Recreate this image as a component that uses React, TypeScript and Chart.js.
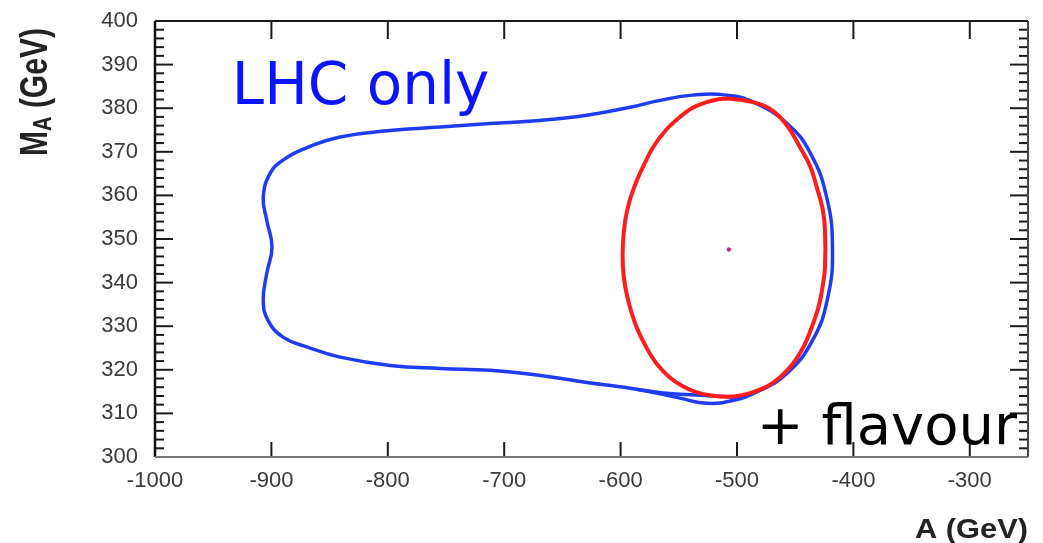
import React, { useEffect, useRef } from "react";
import { Chart, registerables } from "chart.js";

Chart.register(...registerables);

// Axis ranges and tick labels
const xRange = [-1000, -250];
const yRange = [300, 400];
const xTicks = [-1000, -900, -800, -700, -600, -500, -400, -300];
const yTicks = [300, 310, 320, 330, 340, 350, 360, 370, 380, 390, 400];
const yMinorStep = 2;

// Texts
const xTitle = "A (GeV)";
const yTitleMain = "M";
const yTitleSub = "A";
const yTitleRest = " (GeV)";
const lhcLabel = "LHC only";
const flavLabel = "+ flavour";
const lhcLabelPos = [-934, 381];
const flavLabelPos = [-483, 303];

// LHC only contour (blue)
const lhcX = [-712, -755, -798, -841, -869, -890, -901, -907, -904, -899.5, -904, -907, -903, -890, -869, -841, -798, -755, -712, -669, -629, -585, -549, -526, -503, -480, -457, -435, -422, -418, -423, -437, -457, -486, -509, -538, -566, -592, -629, -669, -712];
const lhcY = [376.5, 375.7, 374.9, 373.4, 371, 368.1, 365.1, 359.6, 354.3, 348.1, 342.1, 335.9, 331.4, 327.5, 325.2, 322.9, 321, 320.3, 319.9, 318.7, 317.1, 315.5, 313.5, 312.3, 313, 315.3, 319.2, 326.8, 336.6, 348.1, 359.6, 369.7, 376.5, 381.4, 383, 383, 381.8, 380.2, 378.4, 377.2, 376.5];

// Inner branch of the LHC contour along the bottom of the flavour ellipse
const lhcInnerX = [-585, -560, -535, -508, -496];
const lhcInnerY = [315.5, 314.6, 314.2, 313.8, 313.4];

// LHC + flavour contour (red)
const flavX = [-509, -490, -472, -457, -446, -437, -431.5, -426.5, -424.4, -424.4, -426.5, -430, -436, -443, -452, -463, -474, -486, -497, -509, -522, -535, -547, -558, -569, -578, -586, -592, -596, -598, -598, -596, -592, -586, -579, -572, -561, -549, -538, -526, -517, -509];
const flavY = [382.2, 381.6, 379.9, 376, 371.1, 366.6, 361.9, 357, 352, 343.6, 339, 334.4, 329.6, 325.2, 321.4, 318.3, 316.2, 314.9, 314.1, 313.8, 314.1, 314.9, 316.3, 318.3, 321.4, 325.2, 329.6, 334.4, 339, 343.6, 349, 354.3, 359, 363.5, 367.5, 371.1, 375, 378, 380.1, 381.4, 382, 382.2];

// Best fit point
const bestX = [-507];
const bestY = [347.6];

const toPts = (xs: number[], ys: number[]) => xs.map((v, i) => ({ x: v, y: ys[i] }));

const decorations = {
  id: "decorations",
  afterDatasetsDraw(chart: any) {
    const { ctx, chartArea: a, scales } = chart;
    const x = scales.x;
    const y = scales.y;
    ctx.save();
    const line = (x1: number, y1: number, x2: number, y2: number, c: string, w: number) => {
      ctx.strokeStyle = c;
      ctx.lineWidth = w;
      ctx.beginPath();
      ctx.moveTo(x1, y1);
      ctx.lineTo(x2, y2);
      ctx.stroke();
    };
    // y ticks, left and right, inward
    for (let v = yRange[0]; v <= yRange[1] + 1e-9; v += yMinorStep) {
      const py = y.getPixelForValue(v);
      const major = yTicks.includes(v);
      const len = major ? 18 : 9;
      line(a.left, py, a.left + len, py, "#1a1a1a", 2);
      line(a.right, py, a.right - len, py, "#1a1a1a", 2);
    }
    // x ticks, bottom and top, inward
    xTicks.forEach((v) => {
      const px = x.getPixelForValue(v);
      line(px, a.bottom, px, a.bottom - 15, "#1a1a1a", 2);
      line(px, a.top, px, a.top + 18, "#1a1a1a", 2);
    });
    // frame
    line(a.left, a.top, a.right, a.top, "#1a1a1a", 2);
    line(a.left, a.top, a.left, a.bottom, "#111", 2.5);
    line(a.right, a.top, a.right, a.bottom, "#444", 2);
    line(a.left, a.bottom, a.right, a.bottom, "#777", 2);

    // annotation texts
    ctx.textBaseline = "alphabetic";
    ctx.textAlign = "left";
    ctx.font = '58px "DejaVu Sans"';
    ctx.fillStyle = "#0a14ff";
    ctx.fillText(lhcLabel, x.getPixelForValue(lhcLabelPos[0]), y.getPixelForValue(lhcLabelPos[1]));
    ctx.font = '56px "DejaVu Sans"';
    ctx.fillStyle = "#000";
    ctx.fillText(flavLabel, x.getPixelForValue(flavLabelPos[0]), y.getPixelForValue(flavLabelPos[1]));

    // x title
    ctx.font = 'bold 28px "Liberation Sans"';
    ctx.fillStyle = "#222";
    ctx.textAlign = "right";
    ctx.save();
    ctx.translate(a.right, chart.height - 5);
    ctx.scale(1.1, 1);
    ctx.fillText(xTitle, 0, 0);
    ctx.restore();

    // y title with subscript
    ctx.save();
    ctx.translate(47, a.top + 71);
    ctx.scale(1.3, 1);
    ctx.rotate(-Math.PI / 2);
    ctx.textAlign = "left";
    const fMain = 'bold 30px "Liberation Sans"';
    const fSub = 'bold 20px "Liberation Sans"';
    ctx.font = fMain;
    const wM = ctx.measureText(yTitleMain).width;
    const wR = ctx.measureText(yTitleRest).width;
    ctx.font = fSub;
    const wA = ctx.measureText(yTitleSub).width;
    const total = wM + wA + wR;
    let cx = -total / 2;
    ctx.font = fMain;
    ctx.fillText(yTitleMain, cx, 0);
    cx += wM;
    ctx.font = fSub;
    ctx.fillText(yTitleSub, cx, 3);
    cx += wA;
    ctx.font = fMain;
    ctx.fillText(yTitleRest, cx, 0);
    ctx.restore();

    ctx.restore();
  },
};

export default function App() {
  const ref = useRef<HTMLCanvasElement | null>(null);
  useEffect(() => {
    if (!ref.current) return;
    const chart = new Chart(ref.current, {
      type: "scatter",
      data: {
        datasets: [
          {
            label: "best fit",
            data: toPts(bestX, bestY),
            pointRadius: 2,
            pointBackgroundColor: "#e0206a",
            pointBorderColor: "#8a3aff",
            pointBorderWidth: 0.5,
            showLine: false,
            order: 0,
          },
          {
            label: "LHC + flavour",
            data: toPts(flavX, flavY),
            showLine: true,
            borderColor: "#ff1c1c",
            borderWidth: 4,
            pointRadius: 0,
            tension: 0.4,
            fill: false,
            order: 1,
          },
          {
            label: "LHC only inner",
            data: toPts(lhcInnerX, lhcInnerY),
            showLine: true,
            borderColor: "#1f3cf5",
            borderWidth: 3.5,
            pointRadius: 0,
            tension: 0.4,
            fill: false,
            order: 2,
          },
          {
            label: "LHC only",
            data: toPts(lhcX, lhcY),
            showLine: true,
            borderColor: "#1f3cf5",
            borderWidth: 3.5,
            pointRadius: 0,
            tension: 0.45,
            fill: false,
            order: 3,
          },
        ],
      },
      options: {
        animation: false,
        responsive: true,
        maintainAspectRatio: false,
        layout: { padding: { top: 21, right: 15, left: 0, bottom: 0 } },
        plugins: { legend: { display: false }, tooltip: { enabled: false } },
        scales: {
          x: {
            type: "linear",
            min: xRange[0],
            max: xRange[1],
            afterBuildTicks: (s: any) => {
              s.ticks = xTicks.map((v) => ({ value: v }));
            },
            afterFit: (s: any) => {
              s.height = 86;
              s.paddingLeft = 0;
              s.paddingRight = 0;
            },
            grid: { display: false, drawTicks: false },
            border: { display: false },
            ticks: {
              padding: 11,
              color: "#3a3a3a",
              font: { family: "Liberation Sans", size: 22 },
              maxRotation: 0,
              callback: (v: any) => String(v),
            },
          },
          y: {
            type: "linear",
            min: yRange[0],
            max: yRange[1],
            afterBuildTicks: (s: any) => {
              s.ticks = yTicks.map((v) => ({ value: v }));
            },
            afterFit: (s: any) => {
              s.width = 155;
              s.paddingTop = 0;
              s.paddingBottom = 0;
            },
            grid: { display: false, drawTicks: false },
            border: { display: false },
            ticks: {
              padding: 17,
              color: "#3a3a3a",
              font: { family: "Liberation Sans", size: 22 },
              callback: (v: any) => String(v),
            },
          },
        },
      },
      plugins: [decorations],
    });
    return () => chart.destroy();
  }, []);
  return (
    <div style={{ position: "absolute", left: 0, top: 0, width: 1043, height: 543, background: "#fff" }}>
      <canvas ref={ref} />
    </div>
  );
}
